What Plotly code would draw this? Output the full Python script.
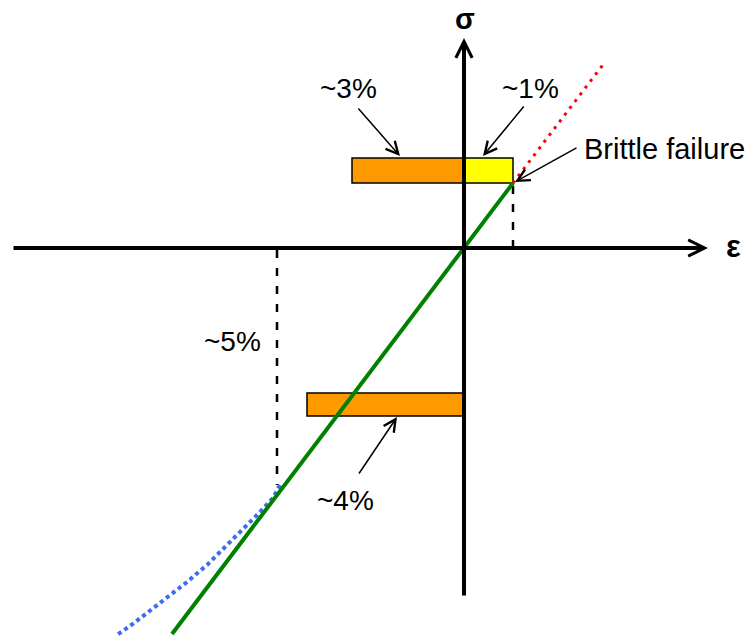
import plotly.graph_objects as go

# diagram units: 1 unit = 1 px, origin where the axes cross
elastic_eps = [-292, 49]
elastic_sig = [-386, 65]

brittle_eps = [49, 141]
brittle_sig = [65, 186]

ductile_eps = [-184, -191, -207, -224, -241, -257, -277, -297, -317, -334, -347]
ductile_sig = [-237, -250, -267, -284, -302, -317, -334, -349, -365, -378, -387]

# bars: (eps_from, eps_to, sig_low, sig_high, colour)
bars = [
    (-112, 0, 65, 90, "#ff9900"),
    (0, 49, 65, 90, "#ffff00"),
    (-157, 0, -168, -145, "#ff9900"),
]

guide_eps = [49, -187]
guide_sig = [(0, 65), (-2, -237)]

labels = ["~3%", "~1%", "~5%", "~4%"]
label_pos = [(-116, 160), (66, 160), (-232, -93), (-119, -252)]
# arrows: tail -> tip
callouts = [((-107, 141), (-64, 92)), ((61, 143), (19, 92)),
            ((114, 101), (51, 66)), ((-106, -227), (-67, -169))]

FONT = "Liberation Sans, Arial, sans-serif"

fig = go.Figure()
fig.add_trace(go.Scatter(x=ductile_eps, y=ductile_sig, mode="lines",
                         line=dict(color="#3b6cf5", width=4, dash="4px,3.5px")))
fig.add_trace(go.Scatter(x=brittle_eps, y=brittle_sig, mode="lines",
                         line=dict(color="#ff0000", width=3, dash="3px,5.5px")))
for e, (s0, s1) in zip(guide_eps, guide_sig):
    fig.add_trace(go.Scatter(x=[e, e], y=[s0, s1], mode="lines",
                             line=dict(color="black", width=2.5, dash="8px,10px")))
fig.add_trace(go.Scatter(x=elastic_eps, y=elastic_sig, mode="lines",
                         line=dict(color="#008000", width=4)))

for x0, x1, y0, y1, c in bars:
    fig.add_shape(type="rect", x0=x0, x1=x1, y0=y0, y1=y1, fillcolor=c,
                  line=dict(color="black", width=1.5), layer="below")

# axes with arrows
fig.add_annotation(x=244, y=0, ax=-452, ay=0, axref="x", ayref="y", text="",
                   showarrow=True, arrowhead=5, arrowwidth=4, arrowsize=0.8, arrowcolor="black")
fig.add_annotation(x=0, y=210, ax=0, ay=-349, axref="x", ayref="y", text="",
                   showarrow=True, arrowhead=5, arrowwidth=4, arrowsize=0.8, arrowcolor="black")

for (t0, t1), (h0, h1) in callouts:
    fig.add_annotation(x=h0, y=h1, ax=t0, ay=t1, axref="x", ayref="y", text="",
                       showarrow=True, arrowhead=5, arrowwidth=1.5, arrowsize=1.6,
                       arrowcolor="black")

for t, (x, y) in zip(labels, label_pos):
    fig.add_annotation(x=x, y=y, text=t, showarrow=False,
                       font=dict(size=28, color="black", family=FONT))
fig.add_annotation(x=118, y=99, text="Brittle failure", showarrow=False, xanchor="left",
                   font=dict(size=29, color="black", family=FONT))
fig.add_annotation(x=1, y=247, text="<b>σ</b>", showarrow=False, yanchor="top",
                   font=dict(size=29, color="black", family=FONT))
fig.add_annotation(x=269, y=2, text="<b>ε</b>", showarrow=False,
                   font=dict(size=31, color="black", family=FONT))

fig.update_layout(
    width=746, height=639, showlegend=False,
    margin=dict(l=0, r=0, t=0, b=0),
    paper_bgcolor="white", plot_bgcolor="white",
    xaxis=dict(range=[-464, 282], visible=False, fixedrange=True),
    yaxis=dict(range=[-391, 248], visible=False, fixedrange=True),
)
fig.write_html("out.html", config={"displayModeBar": False},
               post_script="document.body.style.margin='0';document.body.style.overflow='hidden';")
